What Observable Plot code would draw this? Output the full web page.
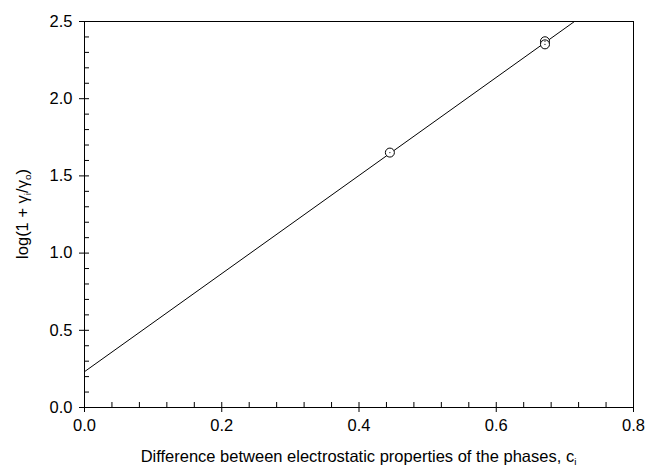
<!DOCTYPE html>
<html>
<head>
<meta charset="utf-8">
<script src="https://cdn.jsdelivr.net/npm/d3@7"></script>
<script src="https://cdn.jsdelivr.net/npm/@observablehq/plot@0.6"></script>
<style>
  html, body { margin: 0; padding: 0; background: #fff; }
  #chart svg { display: block; }
</style>
</head>
<body>
<div id="chart"></div>
<script>
// Data points
const pointX = [0.445, 0.671, 0.671];
const pointY = [1.651, 2.372, 2.352];
// Fitted line endpoints
const lineX = [0, 0.714];
const lineY = [0.232, 2.5];
// Ticks
const xMajor = [0, 0.2, 0.4, 0.6, 0.8];
const xMinor = d3.range(0, 0.8001, 0.04).filter(v => Math.abs(v / 0.2 - Math.round(v / 0.2)) > 1e-6);
const yMajor = [0, 0.5, 1.0, 1.5, 2.0, 2.5];
const yMinor = d3.range(0, 2.5001, 0.1).filter(v => Math.abs(v / 0.5 - Math.round(v / 0.5)) > 1e-6);

const points = pointX.map((x, i) => ({x, y: pointY[i]}));
const line = lineX.map((x, i) => ({x, y: lineY[i]}));

const font = "'Liberation Sans', Arial, sans-serif";
const fs = 16.5;

const plot = Plot.plot({
  width: 646,
  height: 471,
  marginLeft: 84,
  marginRight: 13,
  marginTop: 21,
  marginBottom: 64,
  style: {fontFamily: font, fontSize: fs + "px", color: "#000", background: "#fff"},
  x: {domain: [0, 0.8]},
  y: {domain: [0, 2.5]},
  marks: [
    Plot.axisX(xMajor, {tickSize: 5, tickPadding: 7, tickFormat: d3.format(".1f"), label: null, fontSize: fs}),
    Plot.axisX(xMajor, {tickSize: -5, text: null, label: null}),
    Plot.axisX(xMinor, {tickSize: -5, text: null, label: null}),
    Plot.axisY(yMajor, {tickSize: 5, tickPadding: 7, tickFormat: d3.format(".1f"), label: null, fontSize: fs}),
    Plot.axisY(yMajor, {tickSize: -5, text: null, label: null}),
    Plot.axisY(yMinor, {tickSize: -5, text: null, label: null}),
    Plot.frame({stroke: "#000", strokeWidth: 1}),
    Plot.line(line, {x: "x", y: "y", stroke: "#000", strokeWidth: 1}),
    Plot.dot(points, {x: "x", y: "y", r: 4.5, stroke: "#000", fill: "#fff", strokeWidth: 1}),
    Plot.dot(points, {x: "x", y: "y", r: 0.6, fill: "#000"})
  ]
});

const svg = d3.select(plot);
// x-axis title
const xt = svg.append("text")
  .attr("x", (84 + 633) / 2)
  .attr("y", 462)
  .attr("text-anchor", "middle")
  .attr("font-family", font)
  .attr("font-size", fs)
  .attr("fill", "#000");
xt.append("tspan").text("Difference between electrostatic properties of the phases, c");
xt.append("tspan").attr("font-size", fs * 0.6).attr("dy", 3).text("i");

// y-axis title
const yt = svg.append("text")
  .attr("transform", `translate(28,${(21 + 407) / 2}) rotate(-90)`)
  .attr("text-anchor", "middle")
  .attr("font-family", font)
  .attr("font-size", fs)
  .attr("fill", "#000");
yt.append("tspan").text("log(1 + γ");
yt.append("tspan").attr("font-size", fs * 0.6).attr("dy", 3).text("i");
yt.append("tspan").attr("dy", -3).text("/γ");
yt.append("tspan").attr("font-size", fs * 0.6).attr("dy", 3).text("o");
yt.append("tspan").attr("dy", -3).text(")");

document.getElementById("chart").appendChild(plot);
</script>
</body>
</html>
